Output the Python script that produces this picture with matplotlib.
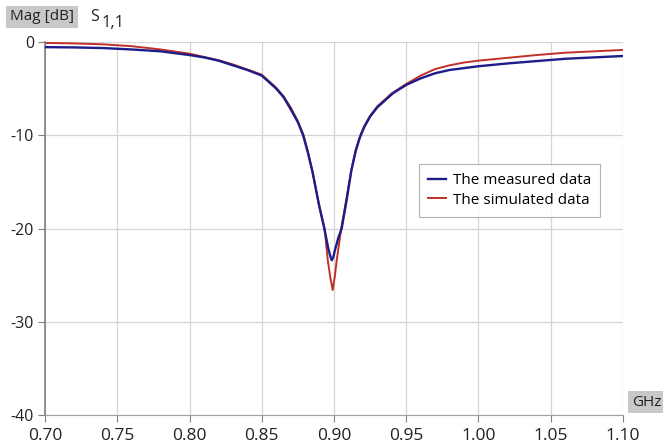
import matplotlib
matplotlib.use("Agg")
import matplotlib.pyplot as plt

plt.rcParams["font.family"] = ["Open Sans", "DejaVu Sans"]

# measured S11 (blue)
freq_meas = [0.70, 0.72, 0.74, 0.76, 0.78, 0.80, 0.81, 0.82, 0.83, 0.84, 0.85,
             0.86, 0.865, 0.87, 0.875, 0.8786, 0.882, 0.8852, 0.8898, 0.8933,
             0.896, 0.8975, 0.8984, 0.8995, 0.9005, 0.903, 0.9053, 0.9087,
             0.912, 0.915, 0.918, 0.921, 0.925, 0.93, 0.9408, 0.95, 0.96, 0.97,
             0.98, 0.99, 1.00, 1.02, 1.04, 1.06, 1.08, 1.10]
mag_meas = [-0.55, -0.58, -0.65, -0.8, -1.0, -1.4, -1.65, -2.0, -2.5, -3.0, -3.6,
            -5.0, -5.9, -7.2, -8.6, -10.0, -11.9, -14.0, -17.6, -20.0,
            -22.1, -23.0, -23.4, -23.1, -22.4, -21.0, -20.0, -17.0,
            -13.8, -11.7, -10.2, -9.1, -8.0, -7.0, -5.5, -4.6, -3.9, -3.35,
            -3.0, -2.8, -2.6, -2.3, -2.05, -1.8, -1.65, -1.5]

# simulated S11 (red)
freq_sim = [0.70, 0.72, 0.74, 0.76, 0.78, 0.80, 0.81, 0.82, 0.83, 0.84, 0.85,
            0.86, 0.865, 0.87, 0.875, 0.879, 0.882, 0.885, 0.8895, 0.8935,
            0.8957, 0.8975, 0.8991, 0.9005, 0.9019, 0.905, 0.9085, 0.912,
            0.915, 0.918, 0.921, 0.925, 0.93, 0.94, 0.95, 0.96, 0.97, 0.98,
            0.99, 1.00, 1.02, 1.04, 1.06, 1.08, 1.10]
mag_sim = [-0.1, -0.15, -0.25, -0.45, -0.8, -1.25, -1.6, -1.95, -2.4, -2.95, -3.5,
           -4.9, -5.8, -7.0, -8.5, -10.0, -11.8, -13.8, -17.4, -20.0,
           -23.4, -25.3, -26.6, -25.2, -23.4, -20.0, -16.9, -13.7,
           -11.6, -10.1, -9.0, -7.9, -6.9, -5.5, -4.5, -3.6, -2.9, -2.5,
           -2.2, -2.0, -1.7, -1.4, -1.15, -1.0, -0.85]

x_ticks = [0.70, 0.75, 0.80, 0.85, 0.90, 0.95, 1.00, 1.05, 1.10]
y_ticks = [-40, -30, -20, -10, 0]

fig = plt.figure(figsize=(6.63, 4.46), dpi=100)
ax = fig.add_axes([45 / 663, 31 / 446, 578 / 663, 373 / 446])

ax.plot(freq_meas, mag_meas, color="#1c1c8a", lw=1.7, label="The measured data", zorder=3)
ax.plot(freq_sim, mag_sim, color="#c0302a", lw=1.4, label="The simulated data", zorder=2)

ax.set_xlim(0.70, 1.10)
ax.set_ylim(-40, 0)
ax.set_xticks(x_ticks)
ax.set_xticklabels([f"{v:.2f}" for v in x_ticks])
ax.set_yticks(y_ticks)
ax.set_yticklabels([str(v) for v in y_ticks])
ax.grid(True, color="#d4d4d4", lw=0.9)
ax.set_axisbelow(True)

for side in ("top", "right"):
    ax.spines[side].set_visible(False)
ax.spines["left"].set_color("#808080")
ax.spines["left"].set_linewidth(1.2)
ax.spines["bottom"].set_color("#a0a0a0")
ax.tick_params(colors="#808080", labelcolor="#222222", length=5)
ax.tick_params(axis="x", labelsize=12.5, pad=4)
ax.tick_params(axis="y", labelsize=11.5, pad=3)

leg = ax.legend(loc="upper left", bbox_to_anchor=(0.647, 0.673), borderaxespad=0,
                fontsize=11, handlelength=1.2, handletextpad=0.4, frameon=True,
                fancybox=False, borderpad=0.6, labelspacing=0.3)
leg.get_frame().set_edgecolor("#a0a0a0")
leg.get_frame().set_linewidth(0.8)

fig.text(10 / 663, 1 - 17 / 446, "Mag [dB]", fontsize=11, va="center", ha="left",
         color="#222222",
         bbox=dict(boxstyle="square,pad=0.25", fc="#c8c8c8", ec="none"))
fig.text(90 / 663, 1 - 17 / 446, "S", fontsize=11.5, va="center", ha="left", color="#222222")
fig.text(102 / 663, 1 - 23 / 446, "1,1", fontsize=12, va="center", ha="left", color="#222222")
fig.text(632 / 663, 1 - 402 / 446, "GHz", fontsize=11, va="center", ha="left",
         color="#222222",
         bbox=dict(boxstyle="square,pad=0.25", fc="#c8c8c8", ec="none"))

fig.savefig("out.png", dpi=100)
